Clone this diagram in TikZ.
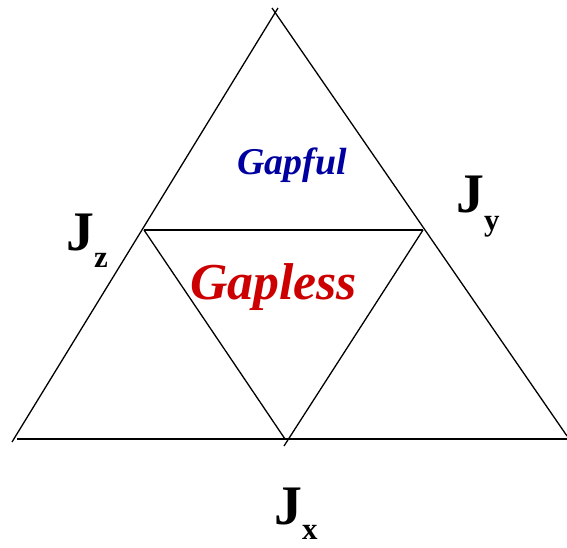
\documentclass[tikz,border=0pt]{standalone}
\usepackage{fontspec}
\setmainfont{Liberation Serif}
\definecolor{gapblue}{RGB}{0,0,160}
\definecolor{gapred}{RGB}{204,0,0}
\tikzset{
  edge/.style={line width=1.3bp, draw=black},
  phase/.style={anchor=base west, inner sep=0pt, font=\bfseries\itshape},
  jlabel/.style={anchor=base west, inner sep=0pt, font=\fontsize{56}{60}\selectfont\bfseries},
}
\newcommand{\jsub}[3]{J\hspace{#1}\raisebox{-#3}{\fontsize{31}{32}\selectfont #2}}
\begin{document}
\begin{tikzpicture}[x=1bp,y=-1bp]
\useasboundingbox (0,0) rectangle (567,548);
% outer vertices / line ends
\coordinate (blA) at (12,442);
\coordinate (topA) at (278,8);
\coordinate (topB) at (272,8);
\coordinate (brB) at (567,436);
\coordinate (bl) at (17,439);
\coordinate (br) at (567,439);
% midpoints
\coordinate (ml) at (144,230);
\coordinate (mr) at (423,230);
\coordinate (mb) at (285,439);
\coordinate (mbx) at (284,446);
% outer triangle
\draw[edge] (blA) -- (topA);
\draw[edge] (topB) -- (brB);
\draw[edge] (bl) -- (br);
% inner triangle
\draw[edge] (ml) -- (mr);
\draw[edge] (ml) -- (mb);
\draw[edge] (mr) -- (mbx);
% labels
\node[phase, text=gapblue, font=\fontsize{38}{40}\selectfont\bfseries\itshape] (gapful) at (237,175) {Gapful};
\node[phase, text=gapred, font=\fontsize{52}{56}\selectfont\bfseries\itshape] (gapless) at (190,299) {Gapless};
\node[jlabel] (jz) at (66,250) {\jsub{0bp}{z}{17bp}};
\node[jlabel] (jy) at (456,213) {\jsub{0bp}{y}{17bp}};
\node[jlabel] (jx) at (274,524) {\jsub{0bp}{x}{15bp}};
\end{tikzpicture}
\end{document}
